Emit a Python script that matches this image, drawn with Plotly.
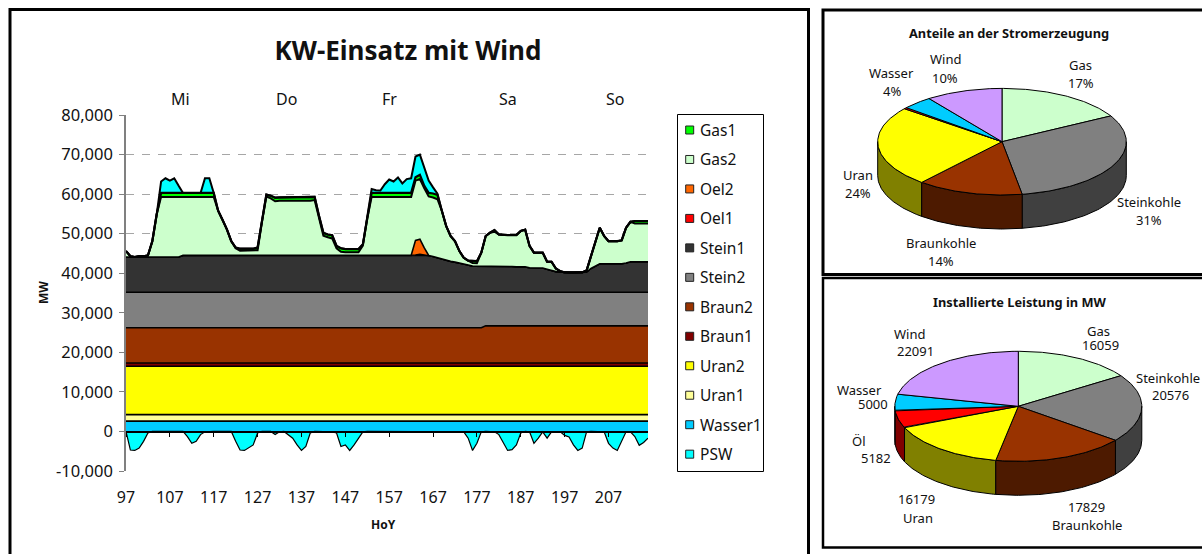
import math
import numpy as np
import plotly.graph_objects as go

HOURS = list(range(97, 217))
X_TICKS = list(range(97, 217, 10))
Y_TICKS = list(range(-10000, 80001, 10000))
Y_LABELS = ["-10,000", "0", "10,000", "20,000", "30,000", "40,000", "50,000", "60,000", "70,000", "80,000"]
DAYS = ["Mi", "Do", "Fr", "Sa", "So"]
DAY_HOURS = [109.5, 133.5, 157, 184, 208.5]

wasser1 = [2600] * 120
uran1 = [1650] * 120
uran2 = [12250] * 120
braun1 = [800] * 120
braun2 = [8900] * 82 + [9400] * 38
stein2 = [9000] * 82 + [8500] * 38
stein1_top = ([44100] * 13 + [44500] * 57 +
              [44250, 43900, 43600, 43200, 43000, 42800, 42600, 42400, 42100] +
              [41800] * 7 + [41700] * 3 + [41600] * 3 + [41400] * 3 +
              [41300, 41000, 40700, 40400, 40300] + [40200] * 5 +
              [40300, 41200, 41900] + [42400] * 6 + [42600] + [42900] * 5)
gas2_top = [
    45600, 44300, 44100, 44300, 44300, 44500, 48100, 54900, 59300, 59300,
    59300, 59300, 59300, 59300, 59300, 59300, 59300, 59300, 59300, 59300,
    59300, 55800, 53600, 51100, 48100, 46300, 45700, 45700, 45700, 45700,
    45800, 53000, 59400, 58900, 58200, 58300, 58300, 58300, 58300, 58300,
    58300, 58300, 58300, 58500, 54300, 49500, 49100, 48800, 46300, 45400,
    45300, 45300, 45300, 45300, 47000, 53900, 59300, 59300, 59300, 59300,
    59300, 59300, 59300, 59300, 59300, 59300, 63400, 63800, 61500, 59400,
    59150, 58700, 55800, 51900, 49400, 48100, 45600, 43900, 43200, 42600,
    42550, 45200, 49400, 50250, 50500, 49800, 49650, 49650, 49650, 49650,
    50700, 51000, 46900, 45200, 45200, 45200, 42900, 42900, 41200, 40500,
    40200, 40200, 40200, 40200, 40200, 40700, 44300, 48100, 51500, 49400,
    48100, 48100, 48100, 48300, 51500, 53000, 52600, 52600, 52600, 52600,
]
oel1 = [0] * 66 + [100, 300, 100] + [0] * 51
oel2 = [0] * 66 + [3700, 3800, 1800] + [0] * 51
gas1 = ([0] * 8 + [1000] * 13 + [0] * 4 + [200] + [500] * 4 +
        [700, 200, 500, 700, 900] + [850] * 8 + [800, 200, 700, 700, 800, 600, 900] +
        [800] * 4 + [300, 100] + [1000] * 10 + [850, 1100, 600, 900, 1000, 1100] +
        [0] * 7 + [450, 500] + [0] * 3 + [400] + [0] * 31 + [600] * 4)
psw_pos = ([0] * 8 + [2900, 3700, 3100, 3700, 1800] + [0] * 5 + [3700, 3700] +
           [0] * 36 + [1000, 700, 600, 2200, 3400, 2900, 3900, 2400, 3500, 3700,
                       5250, 5100, 4700, 3100, 1550, 300] + [0] * 48)
psw_neg = [
    0, -4700, -4800, -4200, -2500, -400, 0, 0, 0, 0,
    0, 0, 0, 0, -1300, -3000, -2500, -800, -100, 0,
    0, 0, 0, 0, 0, -2500, -4700, -4800, -4200, -3400,
    -400, 0, 0, 0, -800, -100, 0, -800, -1700, -3400,
    -4800, -3800, -400, 0, 0, 0, 0, -100, -400, -3800,
    -3400, -4800, -3400, -1700, -100, 0, 0, 0, 0, 0,
    0, 0, 0, 0, 0, 0, 0, 0, 0, 0,
    0, 0, 0, 0, 0, 0, 0, -100, -1700, -4800,
    -3000, -100, 0, 0, -100, -800, -3000, -4800, -4600, -3400,
    -400, 0, -100, -3000, -1700, -100, -1700, -100, -100, -100,
    -1000, -1400, -3400, -4800, -4200, -100, 0, 0, 0, -100,
    -3000, -4200, -4800, -2500, -100, -100, -1300, -3500, -2800, -1700,
]

for arr in (wasser1, uran1, uran2, braun1, braun2, stein2, stein1_top, gas2_top,
            oel1, oel2, gas1, psw_pos, psw_neg):
    assert len(arr) == 120, len(arr)

stein_base = np.array(wasser1) + uran1 + np.array(uran2) + braun1 + np.array(braun2) + stein2
stein1 = np.array(stein1_top) - stein_base
gas2 = np.clip(np.array(gas2_top) - np.array(stein1_top) - oel1 - np.array(oel2), 0, None)

LEGEND_NAMES = ["Gas1", "Gas2", "Oel2", "Oel1", "Stein1", "Stein2", "Braun2", "Braun1",
                "Uran2", "Uran1", "Wasser1", "PSW"]
COLORS = ["#00FF00", "#CCFFCC", "#FF6600", "#FF0000", "#333333", "#808080", "#993300",
          "#800000", "#FFFF00", "#FFFF99", "#00CCFF", "#00FFFF"]
COLOR = dict(zip(LEGEND_NAMES, COLORS))

PIE_COL = {"Gas": ("#CCFFCC", "#668066"), "Steinkohle": ("#808080", "#404040"),
           "Braunkohle": ("#993300", "#4D1A00"), "Uran": ("#FFFF00", "#808000"),
           "Oel": ("#FF0000", "#800000"), "Wasser": ("#00CCFF", "#006680"),
           "Wind": ("#CC99FF", "#664D80")}
PIE1_NAMES = ["Gas", "Steinkohle", "Braunkohle", "Uran", "Oel", "Wasser", "Wind"]
PIE1_SHARE = [17.0, 30.5, 13.8, 24.5, 0.4, 4.0, 10.0]
PIE2_NAMES = ["Gas", "Steinkohle", "Braunkohle", "Uran", "Oel", "Wasser", "Wind"]
PIE2_MW = [16059, 20576, 17829, 16179, 5182, 5000, 22091]

FONT = "Noto Sans"
W, H = 1202, 554
TXT = "#111111"


def px(x):
    return x / W


def py(y):
    return 1 - y / H


fig = go.Figure()

stack = [("Wasser1", wasser1), ("Uran1", uran1), ("Uran2", uran2), ("Braun1", braun1),
         ("Braun2", braun2), ("Stein2", stein2), ("Stein1", stein1), ("Oel1", oel1),
         ("Oel2", oel2), ("Gas2", gas2), ("Gas1", gas1), ("PSW", psw_pos)]
THICK = {"Gas2": 2, "Gas1": 2.2, "PSW": 2}
for name, vals in stack:
    fig.add_trace(go.Scatter(x=HOURS, y=list(vals), name=name, mode="lines", stackgroup="pos",
                             line=dict(color="black", width=THICK.get(name, 1.6)),
                             fillcolor=COLOR[name], showlegend=False, hoverinfo="x+y+name"))
fig.add_trace(go.Scatter(x=HOURS, y=psw_neg, name="PSW", mode="lines", fill="tozeroy",
                         line=dict(color="black", width=1.2), fillcolor=COLOR["PSW"],
                         showlegend=False))


def pie3d(names, values, cx, cy, rx, ry, depth):
    total = sum(values)
    edges = [0.0]
    for v in values:
        edges.append(edges[-1] + v / total * 2 * math.pi)
    # side walls, visible for the front half only, drawn from the sides to the front
    walls = []
    for i, n in enumerate(names):
        a0, a1 = max(edges[i], math.pi / 2), min(edges[i + 1], 3 * math.pi / 2)
        if a1 > a0:
            walls.append((abs((a0 + a1) / 2 - math.pi), a0, a1, n))
    for _, a0, a1, n in sorted(walls, reverse=True):
        t = np.linspace(a0, a1, 60)
        xs = cx + rx * np.sin(t)
        ys = cy - ry * np.cos(t)
        fig.add_trace(go.Scatter(
            x=np.r_[xs, xs[::-1], xs[0]], y=np.r_[ys, ys[::-1] + depth, ys[0]],
            xaxis="x3", yaxis="y3", mode="lines", fill="toself", hoverinfo="skip",
            line=dict(color="black", width=1), fillcolor=PIE_COL[n][1], showlegend=False))
    for i, n in enumerate(names):
        t = np.linspace(edges[i], edges[i + 1], 80)
        xs = np.r_[cx, cx + rx * np.sin(t), cx]
        ys = np.r_[cy, cy - ry * np.cos(t), cy]
        fig.add_trace(go.Scatter(
            x=xs, y=ys, xaxis="x3", yaxis="y3", mode="lines", fill="toself",
            name=n, hoverinfo="name",
            line=dict(color="black", width=1), fillcolor=PIE_COL[n][0], showlegend=False))


pie3d(PIE1_NAMES, PIE1_SHARE, 1002, 141.7, 124.3, 53.3, 34)
pie3d(PIE2_NAMES, PIE2_MW, 1018.3, 406.3, 123.5, 55, 34)

# legend swatches
leg_y = [130 + 29.47 * i for i in range(12)]
for name, y in zip(LEGEND_NAMES, leg_y):
    fig.add_trace(go.Scatter(x=[689.7], y=[y], xaxis="x3", yaxis="y3", mode="markers",
                             marker=dict(symbol="square", size=8, color=COLOR[name],
                                         line=dict(color="#222222", width=1)),
                             name=name, showlegend=False, hoverinfo="name"))

ann = []


def text(x, y, s, size=13, bold=False, angle=0, anchor="center"):
    ann.append(dict(x=x, y=y, xref="x3", yref="y3", text=f"<b>{s}</b>" if bold else s,
                    showarrow=False, xanchor=anchor, yanchor="middle", textangle=angle,
                    font=dict(family=FONT, size=size, color=TXT)))


for name, y in zip(LEGEND_NAMES, leg_y):
    text(697.5, y, name, size=15.5, anchor="left")

for d, h in zip(DAYS, DAY_HOURS):
    ann.append(dict(x=h, y=99, xref="x", yref="y3", text=d, showarrow=False,
                    yanchor="middle", font=dict(family=FONT, size=16, color=TXT)))
text(43, 293, "MW", size=12, bold=True, angle=-90)
text(383, 524, "HoY", size=12, bold=True)

text(1009.3, 32.5, "Anteile an der Stromerzeugung", size=12.8, bold=True)
pie1_labels = [(1080.7, 65, "Gas"), (1080.7, 83, "17%"), (1149.3, 201.5, "Steinkohle"),
               (1149.3, 219.5, "31%"), (941, 243, "Braunkohle"), (941, 261, "14%"),
               (857.7, 175, "Uran"), (857.7, 193, "24%"), (891.7, 73, "Wasser"),
               (891.7, 91, "4%"), (945, 59, "Wind"), (945, 77.5, "10%")]
for x, y, s in pie1_labels:
    text(x, y, s)
text(1019.3, 302.3, "Installierte Leistung in MW", size=12.8, bold=True)
pie2_labels = [(1098.3, 330.5, "Gas"), (1100, 345.2, PIE2_MW[0]),
               (1168.3, 378, "Steinkohle"), (1170.7, 394.7, PIE2_MW[1]),
               (909.3, 334, "Wind"), (915.7, 350.7, PIE2_MW[6]),
               (859, 389.5, "Wasser"), (872.7, 404.2, PIE2_MW[5]),
               (859, 440.7, "Öl"), (876, 458, PIE2_MW[4]),
               (916.7, 499, PIE2_MW[3]), (918.3, 518, "Uran"),
               (1086, 506.7, PIE2_MW[2]), (1087.3, 524.7, "Braunkohle")]
for x, y, s in pie2_labels:
    text(x, y, str(s))

frames = [(10, 9.5, 808.5, 560, 3), (823, 10, 1210, 274.5, 3), (823, 278, 1210, 547.5, 2.5)]
shapes = [dict(type="rect", xref="paper", yref="paper", x0=px(a), x1=px(c), y0=py(b), y1=py(d),
               line=dict(color="black", width=w), layer="below")
          for a, b, c, d, w in frames]
shapes.append(dict(type="rect", xref="paper", yref="paper", x0=px(677.5), x1=px(763.5),
                   y0=py(114.5), y1=py(471.5), line=dict(color="black", width=1), layer="below"))

x_dom = [px(126), px(648)]
y_dom = [py(471), py(115)]
zero_pos = py(431.5)

fig.update_layout(
    width=W, height=H, margin=dict(l=0, r=0, t=0, b=0, pad=0),
    paper_bgcolor="white", plot_bgcolor="rgba(0,0,0,0)", showlegend=False,
    font=dict(family=FONT, size=15, color=TXT),
    title=dict(text="<b>KW-Einsatz mit Wind</b>", x=408 / W, xanchor="center", y=py(51),
               yanchor="middle", font=dict(family=FONT, size=26, color=TXT)),
    xaxis=dict(domain=x_dom, range=[97, 216], tickvals=X_TICKS, ticks="", showgrid=False,
               showline=False, zeroline=False, ticklabelstandoff=15, anchor="y", automargin=False,
               tickfont=dict(family=FONT, size=16, color=TXT)),
    yaxis=dict(domain=y_dom, range=[-10000, 80000], tickvals=Y_TICKS, ticktext=Y_LABELS,
               ticks="outside", ticklen=5, tickcolor="#808080", showline=True, automargin=False,
               linecolor="#808080", linewidth=1.5, zeroline=False, showgrid=True,
               gridcolor="#A6A6A6", griddash="8px,8px", gridwidth=1, ticklabelstandoff=3,
               tickfont=dict(family=FONT, size=16.5, color=TXT), anchor="x"),
    xaxis2=dict(domain=x_dom, matches="x", overlaying="x", anchor="free", position=zero_pos,
                tickvals=X_TICKS, ticks="outside", ticklen=5, tickcolor="black", automargin=False,
                showticklabels=False, showgrid=False, zeroline=False, showline=True,
                linecolor="black", linewidth=1.5, side="bottom"),
    xaxis3=dict(domain=[0, 1], range=[0, W], visible=False, anchor="y3", automargin=False),
    yaxis3=dict(domain=[0, 1], range=[H, 0], visible=False, anchor="x3", automargin=False),
    annotations=ann, shapes=shapes,
)
fig.add_trace(go.Scatter(x=[97], y=[0], xaxis="x2", mode="lines", showlegend=False, hoverinfo="skip"))
fig.write_html("out.html", config=dict(displayModeBar=False),
               post_script="document.body.style.margin='0';document.body.style.overflow='hidden';")
